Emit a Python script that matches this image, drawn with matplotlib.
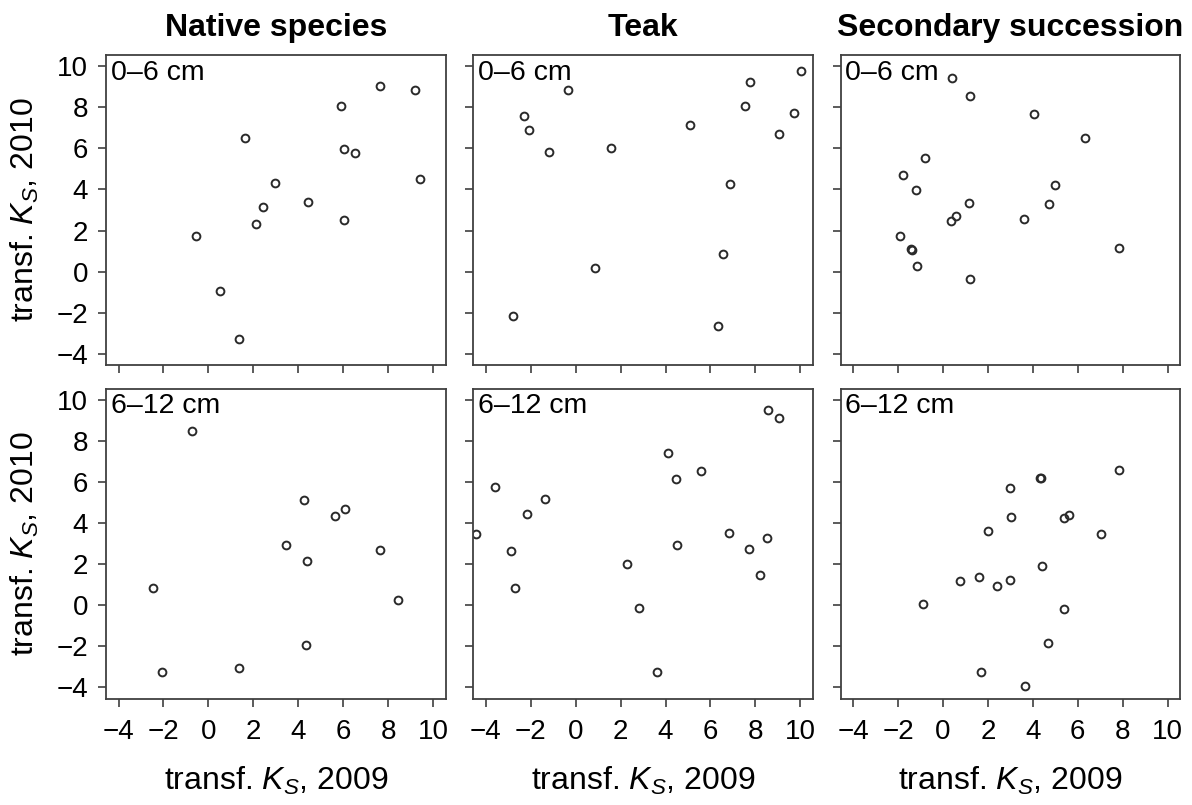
import matplotlib
matplotlib.use("Agg")
import matplotlib.pyplot as plt

plt.rcParams['font.family'] = ['Liberation Sans', 'DejaVu Sans']
plt.rcParams['mathtext.fontset'] = 'custom'
plt.rcParams['mathtext.rm'] = 'Liberation Sans'
plt.rcParams['mathtext.it'] = 'Liberation Sans:italic'

titles = ["Native species", "Teak", "Secondary succession"]
depths = ["0\u20136 cm", "6\u201312 cm"]

# Native species, 0-6 cm
nat_top_x = [-0.53, 0.51, 1.35, 1.64, 2.10, 2.43, 2.96, 4.42, 5.89, 6.04, 6.04, 6.51, 7.64, 9.20, 9.42]
nat_top_y = [1.71, -0.93, -3.27, 6.51, 2.34, 3.14, 4.33, 3.40, 8.07, 5.99, 2.52, 5.79, 9.07, 8.83, 4.49]
# Teak, 0-6 cm
teak_top_x = [-2.81, -2.32, -2.08, -1.18, -0.34, 0.85, 1.56, 5.09, 6.32, 6.56, 6.88, 7.53, 7.78, 9.04, 9.73, 10.04]
teak_top_y = [-2.16, 7.60, 6.88, 5.84, 8.86, 0.15, 6.02, 7.17, -2.65, 0.86, 4.28, 8.08, 9.25, 6.73, 7.71, 9.76]
# Secondary succession, 0-6 cm
sec_top_x = [0.39, 1.21, 4.05, 6.31, -0.79, -1.79, -1.19, 4.97, 1.17, 4.70, 0.59, 0.34, 3.61,
             -1.91, -1.43, -1.39, -1.14, 1.21, 7.85]
sec_top_y = [9.43, 8.57, 7.69, 6.49, 5.53, 4.70, 3.97, 4.21, 3.35, 3.30, 2.70, 2.44, 2.57,
             1.71, 1.08, 1.06, 0.26, -0.36, 1.17]

# Native species, 6-12 cm
nat_bot_x = [-0.73, -2.45, -2.07, 1.35, 4.25, 3.45, 4.37, 4.34, 5.62, 6.10, 7.66, 8.46]
nat_bot_y = [8.50, 0.84, -3.27, -3.07, 5.11, 2.94, 2.13, -1.97, 4.34, 4.68, 2.67, 0.26]
# Teak, 6-12 cm
teak_bot_x = [-4.44, -3.59, -2.89, -2.69, -2.19, -1.37, 2.27, 2.84, 3.60, 4.13, 4.48, 4.50,
              5.59, 6.85, 7.73, 8.23, 8.52, 8.58, 9.05]
teak_bot_y = [3.46, 5.77, 2.63, 0.82, 4.44, 5.16, 2.01, -0.16, -3.27, 7.40, 6.13, 2.91,
              6.52, 3.51, 2.75, 1.48, 3.27, 9.50, 9.11]
# Secondary succession, 6-12 cm
sec_bot_x = [7.84, 4.30, 4.34, 3.00, 3.04, 5.38, 5.62, 2.01, 7.04, 4.41, 0.74, 1.61, 2.39, 3.00,
             -0.91, 5.38, 4.69, 1.70, 3.67]
sec_bot_y = [6.60, 6.21, 6.21, 5.72, 4.31, 4.26, 4.37, 3.62, 3.45, 1.89, 1.19, 1.35, 0.94, 1.23,
             0.05, -0.21, -1.87, -3.27, -3.94]

data = [[(nat_top_x, nat_top_y), (teak_top_x, teak_top_y), (sec_top_x, sec_top_y)],
        [(nat_bot_x, nat_bot_y), (teak_bot_x, teak_bot_y), (sec_bot_x, sec_bot_y)]]

ticks = [-4, -2, 0, 2, 4, 6, 8, 10]
tick_labels = ["\u22124", "\u22122", "0", "2", "4", "6", "8", "10"]

W, H = 1192, 805
fig = plt.figure(figsize=(W / 100, H / 100), dpi=100)

lefts = [106, 473.3, 840.7]
width = 339.5
tops = [55, 388.5]
height = 310

edge = "#404040"
for r in range(2):
    for c in range(3):
        ax = fig.add_axes([lefts[c] / W, 1 - (tops[r] + height) / H, width / W, height / H])
        x, y = data[r][c]
        ax.plot(x, y, 'o', ms=5.6, mfc='none', mec='#2a2a2a', mew=1.4)
        ax.set_xlim(-4.56, 10.56)
        ax.set_ylim(-4.56, 10.56)
        ax.set_xticks(ticks)
        ax.set_yticks(ticks)
        for s in ax.spines.values():
            s.set_color(edge)
            s.set_linewidth(1.3)
        ax.tick_params(direction='out', length=6, width=1.2, color=edge,
                       labelsize=20)
        ax.tick_params(axis='x', pad=9)
        ax.tick_params(axis='y', pad=7)
        if c == 0:
            ax.set_yticklabels(tick_labels)
            ax.set_ylabel(r"transf. $K_S$, 2010", fontsize=23, labelpad=11)
        else:
            ax.set_yticklabels([])
        if r == 1:
            ax.set_xticklabels(tick_labels)
            ax.set_xlabel(r"transf. $K_S$, 2009", fontsize=23, labelpad=14)
        else:
            ax.set_xticklabels([])
            ax.set_title(titles[c], fontsize=23, fontweight='bold', pad=14)
        ax.text(0.014, 0.985, depths[r], transform=ax.transAxes, ha='left', va='top',
                fontsize=20.5)

fig.savefig("out.png", dpi=100)
